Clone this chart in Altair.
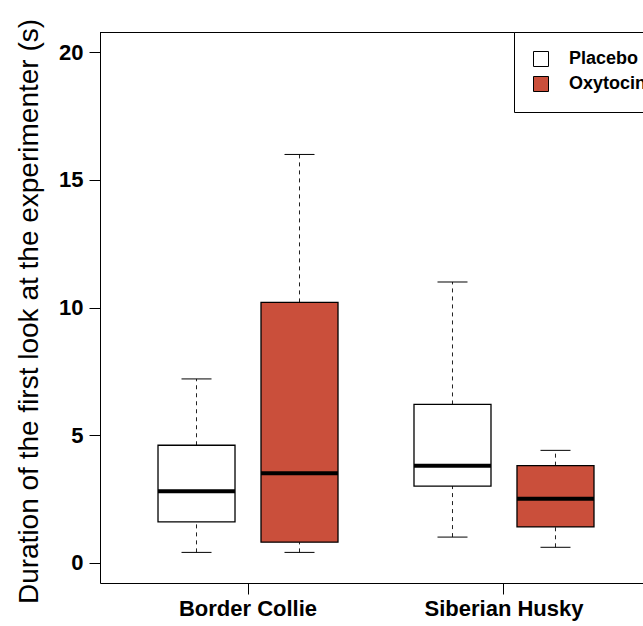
import altair as alt
import pandas as pd

# Five-number summaries per breed and treatment
breeds = ["Border Collie", "Border Collie", "Siberian Husky", "Siberian Husky"]
treatments = ["Placebo", "Oxytocin", "Placebo", "Oxytocin"]
lower = [0.4, 0.4, 1.0, 0.6]
q1 = [1.6, 0.8, 3.0, 1.4]
median = [2.8, 3.5, 3.8, 2.5]
q3 = [4.6, 10.2, 6.2, 3.8]
upper = [7.2, 16.0, 11.0, 4.4]

breed_order = ["Border Collie", "Siberian Husky"]
treatment_order = ["Placebo", "Oxytocin"]
fill_colors = ["white", "#CA4F3B"]

df = pd.DataFrame({
    "breed": breeds, "treatment": treatments,
    "lower": lower, "q1": q1, "median": median, "q3": q3, "upper": upper,
})

FONT = "Liberation Sans"
W, H = 543, 551

x_enc = alt.X(
    "breed:N",
    sort=breed_order,
    scale=alt.Scale(paddingInner=0, paddingOuter=0.0606, align=0.645),
    axis=alt.Axis(
        title=None, labelAngle=0, labelFont=FONT, labelFontSize=22,
        labelFontWeight="bold", labelColor="black", labelPadding=4,
        tickSize=11, tickColor="black", domainColor="black", domainWidth=1,
        grid=False,
    ),
)
xo_enc = alt.XOffset(
    "treatment:N",
    sort=treatment_order,
    scale=alt.Scale(domain=treatment_order, paddingInner=0.2524, paddingOuter=0.3689),
)
y_scale = alt.Scale(domain=[-0.8, 20.8], nice=False, zero=False)
y_axis = alt.Axis(
    values=[0, 5, 10, 15, 20], format="d", grid=False,
    labelFont=FONT, labelFontSize=22, labelFontWeight="bold", labelColor="black",
    labelPadding=6, tickSize=11, tickColor="black",
    domainColor="black", domainWidth=1,
    title="Duration of the first look at the experimenter (s)",
    titleFont=FONT, titleFontSize=28, titleFontWeight="normal", titleColor="black",
    titleAngle=270, titleX=-63, titleY=279, titleAlign="center",
    titleBaseline="alphabetic",
)

base = alt.Chart(df)

whisker_low = base.mark_rule(color="#222", strokeWidth=1, strokeDash=[4, 4]).encode(
    x=x_enc, xOffset=xo_enc,
    y=alt.Y("lower:Q", scale=y_scale, axis=y_axis), y2="q1:Q",
)
whisker_high = base.mark_rule(color="#222", strokeWidth=1, strokeDash=[4, 4]).encode(
    x=x_enc, xOffset=xo_enc, y=alt.Y("q3:Q", scale=y_scale), y2="upper:Q",
)
cap_low = base.mark_tick(color="black", size=30, thickness=1, opacity=1).encode(
    x=x_enc, xOffset=xo_enc, y=alt.Y("lower:Q", scale=y_scale),
)
cap_high = base.mark_tick(color="black", size=30, thickness=1, opacity=1).encode(
    x=x_enc, xOffset=xo_enc, y=alt.Y("upper:Q", scale=y_scale),
)
boxes = base.mark_bar(stroke="black", strokeWidth=1.3, opacity=1).encode(
    x=x_enc, xOffset=xo_enc,
    y=alt.Y("q1:Q", scale=y_scale), y2="q3:Q",
    fill=alt.Fill(
        "treatment:N",
        scale=alt.Scale(domain=treatment_order, range=fill_colors),
        legend=alt.Legend(
            title=None, orient="none", legendX=414, legendY=0,
            strokeColor="black", fillColor="white", padding=18,
            symbolType="square", symbolSize=225,
            symbolStrokeColor="black", symbolStrokeWidth=1,
            labelFont=FONT, labelFontSize=18, labelFontWeight="bold",
            labelColor="black", labelOffset=19, rowPadding=5,
        ),
    ),
)
medians = base.mark_tick(color="black", size=77, thickness=4, opacity=1).encode(
    x=x_enc, xOffset=xo_enc, y=alt.Y("median:Q", scale=y_scale),
)

# top edge of the plot frame (left and bottom come from the axis lines)
top_edge = alt.Chart(pd.DataFrame({"edge": ["top"]})).mark_rule(
    color="black", strokeWidth=1
).encode(x=alt.value(0), x2=alt.value(W), y=alt.value(0.5))

chart = alt.layer(
    whisker_low, whisker_high, cap_low, cap_high, boxes, medians, top_edge
).properties(
    width=W, height=H,
    padding={"left": 100, "top": 32, "right": 0, "bottom": 43},
    autosize=alt.AutoSizeParams(type="none"),
    background="white",
).configure_view(stroke=None)

chart.save("out.html", embed_options={"renderer": "svg", "actions": False})
